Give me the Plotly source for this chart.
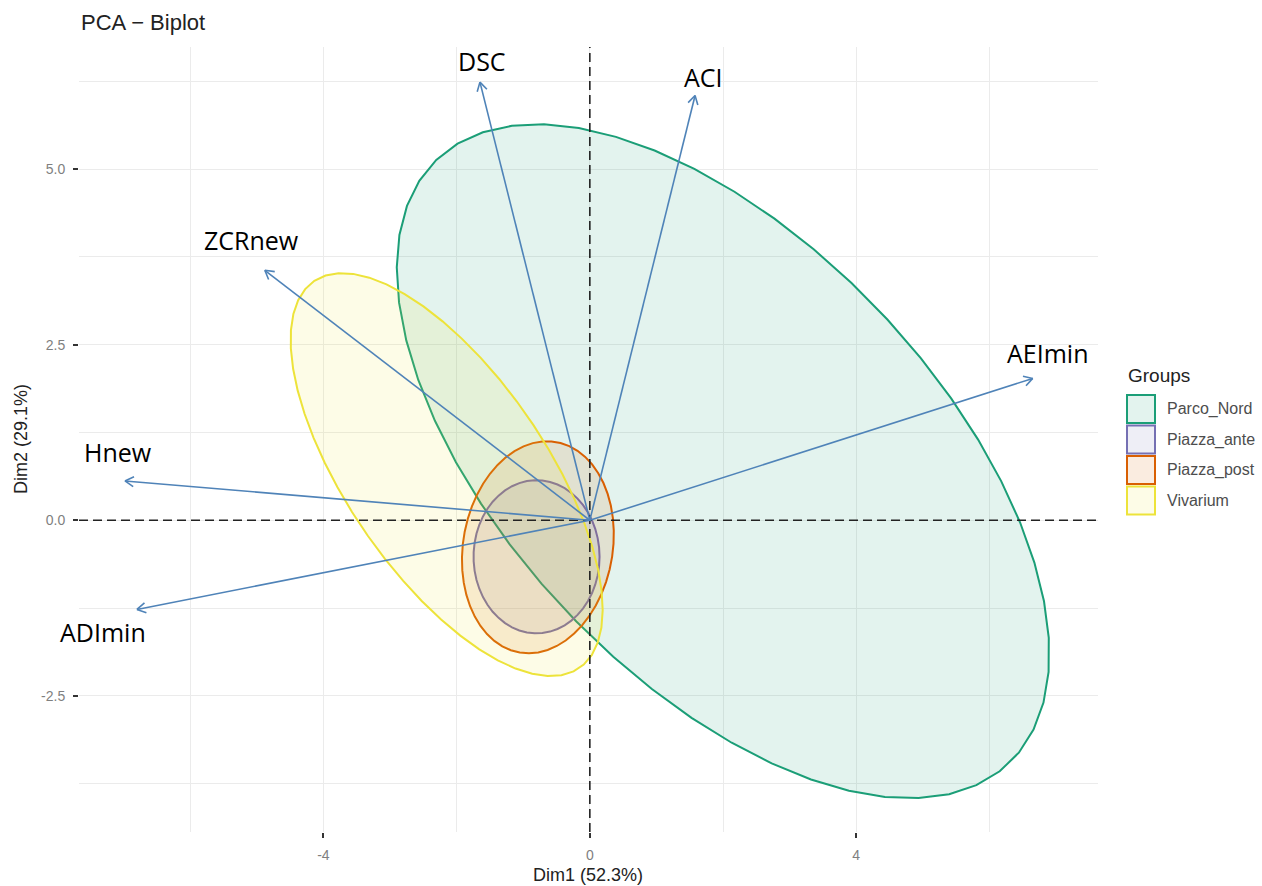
import numpy as np
import plotly.graph_objects as go

# ---- variable loadings on the first two dimensions ----
var_names = ["DSC", "ACI", "ZCRnew", "AEImin", "Hnew", "ADImin"]
var_dim1 = [-1.65, 1.58, -4.88, 6.65, -6.98, -6.80]
var_dim2 = [6.24, 6.05, 3.56, 2.02, 0.56, -1.27]

# ---- group concentration ellipses (centre and spread matrix) ----
group_names = ["Parco_Nord", "Piazza_ante", "Piazza_post", "Vivarium"]
ell_cx = [2.00, -0.80, -0.78, -2.15]
ell_cy = [0.84, -0.52, -0.385, 0.65]
ell_sxx = [24.0, 0.895, 1.30, 5.49]
ell_syy = [23.04, 1.19, 2.28, 8.24]
ell_sxy = [-13.45, 0.0, 0.21, -4.5]

# ---- axis ticks ----
x_tickvals = [-4, 0, 4]
x_ticktext = ["-4", "0", "4"]
y_tickvals = [-2.5, 0, 2.5, 5.0]
y_ticktext = ["-2.5", "0.0", "2.5", "5.0"]

# ---- styling ----
W, H = 1262, 886
M_L, M_R, M_T, M_B = 79, 164, 47, 54
X_RANGE = [-7.67, 7.63]
Y_RANGE = [-4.44, 6.74]
PW = W - M_L - M_R
PH = H - M_T - M_B
SX = PW / (X_RANGE[1] - X_RANGE[0])   # px per unit
SY = PH / (Y_RANGE[1] - Y_RANGE[0])

line_colors = {"Parco_Nord": "#1B9E77", "Piazza_ante": "#7570B3",
               "Piazza_post": "#D95F02", "Vivarium": "#EDE33A"}
FILL_ALPHA = 0.12
ARROW_COLOR = "#4F83B8"

# label offsets from arrow tip, in pixels (right, up)
label_shift = {"DSC": (2, 21), "ACI": (8, 18), "ZCRnew": (-13, 30),
               "AEImin": (15, 25), "Hnew": (-7, 29), "ADImin": (-34, -23)}


def rgba(hex_color, a):
    h = hex_color.lstrip("#")
    r, g, b = int(h[0:2], 16), int(h[2:4], 16), int(h[4:6], 16)
    return f"rgba({r},{g},{b},{a})"


def ellipse_outline(cx, cy, sxx, syy, sxy, n=52):
    cov = np.array([[sxx, sxy], [sxy, syy]])
    vals, vecs = np.linalg.eigh(cov)
    t = np.linspace(0, 2 * np.pi, n)
    circle = np.vstack([np.cos(t), np.sin(t)])
    pts = vecs @ np.diag(np.sqrt(vals)) @ circle
    return cx + pts[0], cy + pts[1]


def px_to_paper(px, py):
    return (px - M_L) / PW, (H - M_B - py) / PH


fig = go.Figure()

# ellipses
for i, g in enumerate(group_names):
    ex, ey = ellipse_outline(ell_cx[i], ell_cy[i], ell_sxx[i], ell_syy[i], ell_sxy[i])
    fig.add_trace(go.Scatter(
        x=ex, y=ey, mode="lines", fill="toself",
        fillcolor=rgba(line_colors[g], FILL_ALPHA),
        line=dict(color=line_colors[g], width=2),
        name=g, showlegend=False, hoverinfo="skip"))

# zero reference lines
fig.add_trace(go.Scatter(x=X_RANGE, y=[0, 0], mode="lines",
                         line=dict(color="#222222", width=1.6, dash="9px,5px"),
                         showlegend=False, hoverinfo="skip"))
fig.add_trace(go.Scatter(x=[0, 0], y=Y_RANGE, mode="lines",
                         line=dict(color="#222222", width=1.6, dash="9px,5px"),
                         showlegend=False, hoverinfo="skip"))

# arrows: shafts and open heads
HEAD_LEN = 10
HEAD_ANG = np.deg2rad(30)
ax_, ay_ = [], []
for x, y in zip(var_dim1, var_dim2):
    ax_ += [0, x, None]
    ay_ += [0, y, None]
    # direction in pixel space (y up)
    dx, dy = x * SX, y * SY
    L = np.hypot(dx, dy)
    ux, uy = dx / L, dy / L
    for s in (+1, -1):
        c, sn = np.cos(s * HEAD_ANG), np.sin(s * HEAD_ANG)
        bx = -(ux * c - uy * sn) * HEAD_LEN
        by = -(ux * sn + uy * c) * HEAD_LEN
        ax_ += [x, x + bx / SX, None]
        ay_ += [y, y + by / SY, None]
fig.add_trace(go.Scatter(x=ax_, y=ay_, mode="lines",
                         line=dict(color=ARROW_COLOR, width=1.6),
                         showlegend=False, hoverinfo="skip"))

annotations = []
for name, x, y in zip(var_names, var_dim1, var_dim2):
    sx, sy = label_shift[name]
    annotations.append(dict(x=x, y=y, xref="x", yref="y", text=name,
                            showarrow=False, xshift=sx, yshift=sy,
                            font=dict(family="Open Sans", size=25, color="#000000")))

# title and axis titles
tx, ty = px_to_paper(79, 22)
annotations.append(dict(x=tx, y=ty, xref="paper", yref="paper", text="PCA − Biplot",
                        showarrow=False, xanchor="left", yanchor="middle",
                        font=dict(family="Liberation Sans", size=22, color="#222222")))
xtx, xty = px_to_paper(588, 875)
annotations.append(dict(x=xtx, y=xty, xref="paper", yref="paper", text="Dim1 (52.3%)",
                        showarrow=False, xanchor="center", yanchor="middle",
                        font=dict(family="Liberation Sans", size=18, color="#222222")))
ytx, yty = px_to_paper(21, 439)
annotations.append(dict(x=ytx, y=yty, xref="paper", yref="paper", text="Dim2 (29.1%)",
                        showarrow=False, xanchor="center", yanchor="middle", textangle=-90,
                        font=dict(family="Liberation Sans", size=18, color="#222222")))

# legend drawn by hand
shapes = []
gx, gy = px_to_paper(1126, 375)
annotations.append(dict(x=gx, y=gy, xref="paper", yref="paper", text="Groups",
                        showarrow=False, xanchor="left", yanchor="middle",
                        font=dict(family="Liberation Sans", size=19, color="#222222")))
for i, g in enumerate(group_names):
    top = 395 + i * 30.5
    x0, y1 = px_to_paper(1127, top)
    x1, y0 = px_to_paper(1155, top + 28)
    shapes.append(dict(type="rect", xref="paper", yref="paper",
                       x0=x0, x1=x1, y0=y0, y1=y1,
                       fillcolor=rgba(line_colors[g], FILL_ALPHA),
                       line=dict(color=line_colors[g], width=2)))
    lx, ly = px_to_paper(1165, top + 14)
    annotations.append(dict(x=lx, y=ly, xref="paper", yref="paper", text=g,
                            showarrow=False, xanchor="left", yanchor="middle",
                            font=dict(family="Liberation Sans", size=16, color="#4d4d4d")))

grid = "#ebebeb"
axis_common = dict(showgrid=True, gridcolor=grid, gridwidth=1.1, zeroline=False,
                   showline=False, ticks="outside", ticklen=5, tickwidth=1.5,
                   tickcolor="#333333", ticklabelstandoff=5,
                   tickfont=dict(family="Liberation Sans", size=14, color="#7f7f7f"),
                   fixedrange=True)
fig.update_layout(
    width=W, height=H,
    margin=dict(l=M_L, r=M_R, t=M_T, b=M_B, pad=0),
    paper_bgcolor="white", plot_bgcolor="white",
    showlegend=False,
    annotations=annotations, shapes=shapes,
    xaxis=dict(range=X_RANGE, tickvals=x_tickvals, ticktext=x_ticktext,
               minor=dict(tickvals=[-6, -2, 2, 6], showgrid=True,
                          gridcolor=grid, gridwidth=0.8, ticks=""),
               **axis_common),
    yaxis=dict(range=Y_RANGE, tickvals=y_tickvals, ticktext=y_ticktext,
               minor=dict(tickvals=[-3.75, -1.25, 1.25, 3.75, 6.25], showgrid=True,
                          gridcolor=grid, gridwidth=0.8, ticks=""),
               **axis_common),
)

fig.write_html("out.html")
